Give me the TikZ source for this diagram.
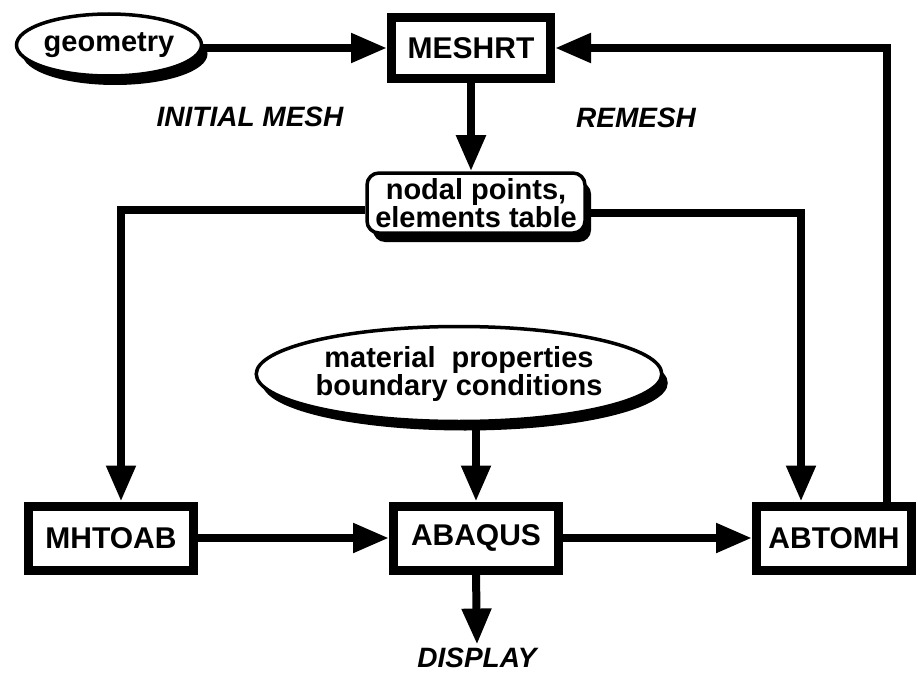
\documentclass[tikz,border=0pt]{standalone}
\usepackage{fontspec}
\setmainfont{Liberation Sans}
\usetikzlibrary{arrows.meta, positioning, shapes.geometric, shadows}

\begin{document}
\begin{tikzpicture}[x=1pt, y=-1pt,
  >={Triangle[length=36pt,width=28pt]},
  lbl/.style={font=\fontsize{29}{27}\selectfont\bfseries},
  prog/.style={draw, line width=9pt, minimum width=165pt, minimum height=64pt,
               inner sep=0pt, font=\fontsize{30}{30}\selectfont\bfseries},
  data/.style={draw, line width=3.5pt, fill=white, align=center, lbl,
               drop shadow={shadow xshift=6pt, shadow yshift=-9pt, fill=black, opacity=1}},
  oval/.style={data, ellipse, inner sep=0pt},
  tag/.style={font=\fontsize{28}{30}\selectfont\bfseries\itshape},
  arr/.style={->, line width=8pt},
]
\useasboundingbox (0,0) rectangle (918,674);
% Mesh generation (top)
\node[oval, minimum width=185pt, minimum height=62pt] (geom) at (109,45) {geometry};
\node[prog, minimum width=159pt, minimum height=61pt] (meshrt) at (471,48) {MESHRT};
\node[data, rounded corners=12pt, minimum width=218pt, minimum height=60pt]
       (nodal) at (476,203) {nodal points,\\elements table};
\node[tag] (init)   at (250,117) {INITIAL MESH};
\node[tag] (remesh) at (636,118) {REMESH};
% Analysis (bottom row)
\node[oval, minimum width=314pt, minimum height=95pt]
       (matl) at (459,374) {material\ \ properties\\boundary conditions};
\node[prog] (mhtoab) at (111,538) {MHTOAB};
\node[prog] (abaqus) at (476,538) {ABAQUS};
\node[prog, minimum width=155pt] (abtomh) at (834,538) {ABTOMH};
\node[tag] (display) at (477,658) {DISPLAY};
% Bends
\coordinate (lft) at (121,210);
\coordinate (rgt) at (801,213);
\coordinate (fb)  at (887,47);
% Arrows
\draw[arr] (geom.east |- meshrt) -- (meshrt);
\draw[arr] (meshrt.south) -- (meshrt.south |- nodal.north);
\draw[arr] (nodal.west |- lft) -- (lft) -- (lft |- mhtoab.north);
\draw[arr] (nodal.east |- rgt) -- (rgt) -- (rgt |- abtomh.north);
\draw[arr] (matl.south -| abaqus.north) -- (abaqus.north);
\draw[arr] (mhtoab) -- (abaqus);
\draw[arr] (abaqus) -- (abtomh);
\draw[arr] (abaqus.south) -- (display.north);
\draw[arr] (abtomh.north -| fb) -- (fb |- meshrt.east) -- (meshrt.east);
\end{tikzpicture}
\end{document}
